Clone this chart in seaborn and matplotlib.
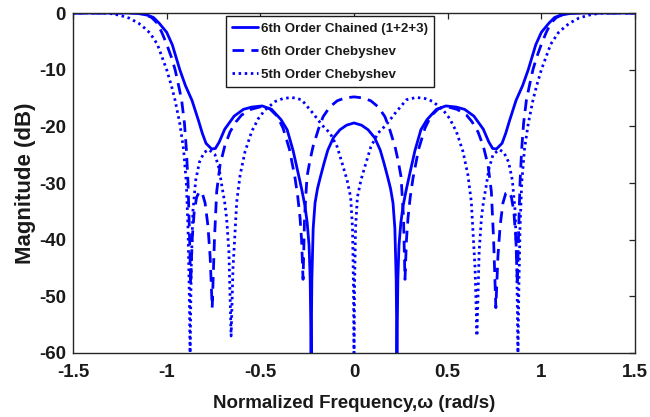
import matplotlib
matplotlib.use("Agg")
import matplotlib.pyplot as plt
import seaborn as sns
import pandas as pd

# Return-loss traces (dB) versus normalized frequency, left half then right half
chained_x_left = [-1.5, -1.3, -1.2, -1.15, -1.1, -1.07, -1.04, -1.0, -0.97, -0.93,
                  -0.9, -0.865, -0.83, -0.81, -0.79, -0.76, -0.74, -0.72, -0.69, -0.64,
                  -0.59, -0.546, -0.49, -0.44, -0.39, -0.357, -0.325, -0.3, -0.28, -0.262,
                  -0.25, -0.24, -0.234, -0.229, -0.225, -0.218, -0.208, -0.195, -0.18, -0.16,
                  -0.14, -0.11, -0.075, -0.04, 0.0]
chained_y_left = [0, 0, 0, -0.1, -0.4, -0.8, -1.8, -3.4, -5.6, -10,
                  -12.8, -15.4, -19, -21.2, -23.0, -24.0, -23.9, -22.8, -20.5, -18.2,
                  -17.0, -16.6, -16.4, -17.0, -18.8, -20.6, -24.3, -28.0, -31, -34,
                  -37, -41, -47, -60, -47, -38, -33.5, -31, -29, -26.5,
                  -24.2, -22, -20.6, -19.8, -19.4]
chained_x_right = [0.04, 0.075, 0.11, 0.14, 0.16, 0.18, 0.195, 0.208, 0.218, 0.225,
                   0.229, 0.234, 0.24, 0.25, 0.262, 0.28, 0.3, 0.325, 0.357, 0.39,
                   0.44, 0.49, 0.546, 0.59, 0.64, 0.69, 0.72, 0.74, 0.76, 0.79,
                   0.81, 0.83, 0.865, 0.9, 0.93, 0.97, 1.0, 1.04, 1.07, 1.1,
                   1.15, 1.2, 1.3, 1.5]
chained_y_right = [-19.8, -20.6, -22, -24.2, -26.5, -29, -31, -33.5, -38, -47,
                   -60, -47, -41, -37, -34, -31, -28.0, -24.3, -20.6, -18.8,
                   -17.0, -16.4, -16.6, -17.0, -18.2, -20.5, -22.8, -23.9, -24.0, -23.0,
                   -21.2, -19, -15.4, -12.8, -10, -5.6, -3.4, -1.8, -0.8, -0.4,
                   -0.1, 0, 0, 0]

cheb6_x_left = [-1.5, -1.3, -1.15, -1.12, -1.08, -1.05, -1.025, -1.0, -0.975, -0.955,
                -0.935, -0.92, -0.905, -0.895, -0.886, -0.879, -0.872, -0.864, -0.853, -0.84,
                -0.825, -0.81, -0.795, -0.78, -0.768, -0.757, -0.745, -0.733, -0.715, -0.69,
                -0.662, -0.63, -0.6, -0.55, -0.493, -0.45, -0.41, -0.379, -0.345, -0.315,
                -0.3, -0.288, -0.28, -0.272, -0.264, -0.251, -0.235, -0.219, -0.19, -0.165,
                -0.13, -0.09, -0.05, 0.0]
cheb6_y_left = [0, 0, 0, -0.2, -0.8, -1.8, -3.5, -5.5, -7.8, -10,
                -13, -15.4, -19.5, -24, -30, -38, -48, -40, -35, -32.5,
                -31.5, -31.8, -33.5, -37.5, -43, -52, -40, -31.5, -26.8, -23.5,
                -21.0, -19.2, -18.0, -17.0, -16.5, -16.9, -18.2, -20.3, -24, -29.1,
                -32.5, -36.2, -40, -47, -36, -28.9, -26, -23.6, -20.5, -18.3,
                -16.6, -15.5, -15.0, -14.8]
cheb6_x_right = [0.05, 0.09, 0.13, 0.165, 0.19, 0.219, 0.235, 0.251, 0.264, 0.272,
                 0.28, 0.288, 0.3, 0.315, 0.345, 0.379, 0.41, 0.45, 0.493, 0.55,
                 0.6, 0.63, 0.662, 0.69, 0.715, 0.733, 0.745, 0.757, 0.768, 0.78,
                 0.795, 0.81, 0.825, 0.84, 0.853, 0.864, 0.872, 0.879, 0.886, 0.895,
                 0.905, 0.92, 0.935, 0.955, 0.975, 1.0, 1.025, 1.05, 1.08, 1.12,
                 1.15, 1.3, 1.5]
cheb6_y_right = [-15.0, -15.5, -16.6, -18.3, -20.5, -23.6, -26, -28.9, -36, -47,
                 -40, -36.2, -32.5, -29.1, -24, -20.3, -18.2, -16.9, -16.5, -17.0,
                 -18.0, -19.2, -21.0, -23.5, -26.8, -31.5, -40, -52, -43, -37.5,
                 -33.5, -31.8, -31.5, -32.5, -35, -40, -48, -38, -30, -24,
                 -19.5, -15.4, -13, -10, -7.8, -5.5, -3.5, -1.8, -0.8, -0.2,
                 0, 0, 0]

cheb5_x_left = [-1.5, -1.35, -1.3, -1.25, -1.2, -1.15, -1.12, -1.09, -1.05, -1.0,
                -0.975, -0.955, -0.93, -0.91, -0.895, -0.886, -0.88, -0.875, -0.869, -0.86,
                -0.845, -0.825, -0.8, -0.775, -0.742, -0.72, -0.706, -0.69, -0.68, -0.668,
                -0.656, -0.646, -0.635, -0.626, -0.608, -0.582, -0.546, -0.51, -0.475, -0.42,
                -0.38, -0.332, -0.28, -0.219, -0.17, -0.128, -0.09, -0.058, -0.037, -0.018,
                -0.008, -0.003, 0.0]
cheb5_y_left = [0, 0, -0.1, -0.4, -0.9, -1.8, -2.6, -3.5, -5.5, -10,
                -12.8, -15.4, -19.5, -24, -30, -38, -48, -60, -45, -35,
                -29.5, -26.3, -24.6, -24.1, -25, -27.5, -30.4, -33.5, -36.2, -42,
                -57, -45, -38.6, -33.3, -28.6, -24.5, -20.9, -18.6, -17.1, -15.6,
                -15.1, -14.9, -15.3, -17.7, -19.8, -21.2, -23.6, -27.1, -29.5, -32.5,
                -38, -48, -60]
cheb5_x_right = [0.003, 0.008, 0.018, 0.037, 0.058, 0.09, 0.128, 0.17, 0.219, 0.28,
                 0.332, 0.38, 0.42, 0.475, 0.51, 0.546, 0.582, 0.608, 0.626, 0.635,
                 0.646, 0.656, 0.668, 0.68, 0.69, 0.706, 0.72, 0.742, 0.775, 0.8,
                 0.825, 0.845, 0.86, 0.869, 0.875, 0.88, 0.886, 0.895, 0.91, 0.93,
                 0.955, 0.975, 1.0, 1.05, 1.09, 1.12, 1.15, 1.2, 1.25, 1.3,
                 1.35, 1.5]
cheb5_y_right = [-48, -38, -32.5, -29.5, -27.1, -23.6, -21.2, -19.8, -17.7, -15.3,
                 -14.9, -15.1, -15.6, -17.1, -18.6, -20.9, -24.5, -28.6, -33.3, -38.6,
                 -45, -57, -42, -36.2, -33.5, -30.4, -27.5, -25, -24.1, -24.6,
                 -26.3, -29.5, -35, -45, -60, -48, -38, -30, -24, -19.5,
                 -15.4, -12.8, -10, -5.5, -3.5, -2.6, -1.8, -0.9, -0.4, -0.1,
                 0, 0]

series_labels = ["6th Order Chained (1+2+3)", "6th Order Chebyshev", "5th Order Chebyshev"]
x_ticks = [-1.5, -1, -0.5, 0, 0.5, 1, 1.5]
x_tick_labels = ["-1.5", "-1", "-0.5", "0", "0.5", "1", "1.5"]
y_ticks = [0, -10, -20, -30, -40, -50, -60]
y_tick_labels = ["0", "-10", "-20", "-30", "-40", "-50", "-60"]

sns.set_theme(style="white")
plt.rcParams["font.family"] = ["Liberation Sans", "DejaVu Sans"]
plt.rcParams["font.weight"] = "bold"

fig = plt.figure(figsize=(6.5, 4.17), dpi=100)
ax = fig.add_axes([0.1123, 0.1535, 0.8647, 0.8153])

traces = [
    (chained_x_left + chained_x_right, chained_y_left + chained_y_right, "-"),
    (cheb6_x_left + cheb6_x_right, cheb6_y_left + cheb6_y_right, (0, (4.2, 2.6))),
    (cheb5_x_left + cheb5_x_right, cheb5_y_left + cheb5_y_right, (0, (0.9, 1.3))),
]
for (xs, ys, style), label in zip(traces, series_labels):
    df = pd.DataFrame({"w": xs, "mag": ys})
    sns.lineplot(data=df, x="w", y="mag", ax=ax, sort=False, estimator=None,
                 color="#0000ff", linewidth=2.0, linestyle=style, label=label)

ax.set_xlim(-1.5, 1.5)
ax.set_ylim(-60, 0)
ax.set_xticks(x_ticks)
ax.set_xticklabels(x_tick_labels)
ax.set_yticks(y_ticks)
ax.set_yticklabels(y_tick_labels)
ax.tick_params(axis="both", direction="in", length=4, width=0.9, colors="#222222",
               labelcolor="#1a1a1a", labelsize=13.5, top=True, right=True)
ax.tick_params(axis="x", pad=8)
ax.tick_params(axis="y", pad=5)
for lab in ax.get_xticklabels() + ax.get_yticklabels():
    lab.set_fontweight("bold")
for side in ax.spines.values():
    side.set_visible(True)
    side.set_color("#262626")
    side.set_linewidth(1.0)

ax.set_xlabel("Normalized Frequency,ω (rad/s)", fontsize=13.5, fontweight="bold",
              color="#1a1a1a", labelpad=10)
ax.set_ylabel("Magnitude (dB)", fontsize=16, fontweight="bold", color="#1a1a1a",
              labelpad=2)

leg = ax.legend(loc="upper left", bbox_to_anchor=(0.272, 0.99), frameon=True,
                fancybox=False, framealpha=1, edgecolor="#1a1a1a",
                prop={"family": ["Liberation Sans"], "weight": "bold", "size": 9.6},
                handlelength=1.95, handletextpad=0.2, borderpad=0.45, labelspacing=0.8,
                borderaxespad=0)
leg.get_frame().set_linewidth(1.0)
for t in leg.get_texts():
    t.set_color("#1a1a1a")

fig.savefig("out.png", dpi=100)
